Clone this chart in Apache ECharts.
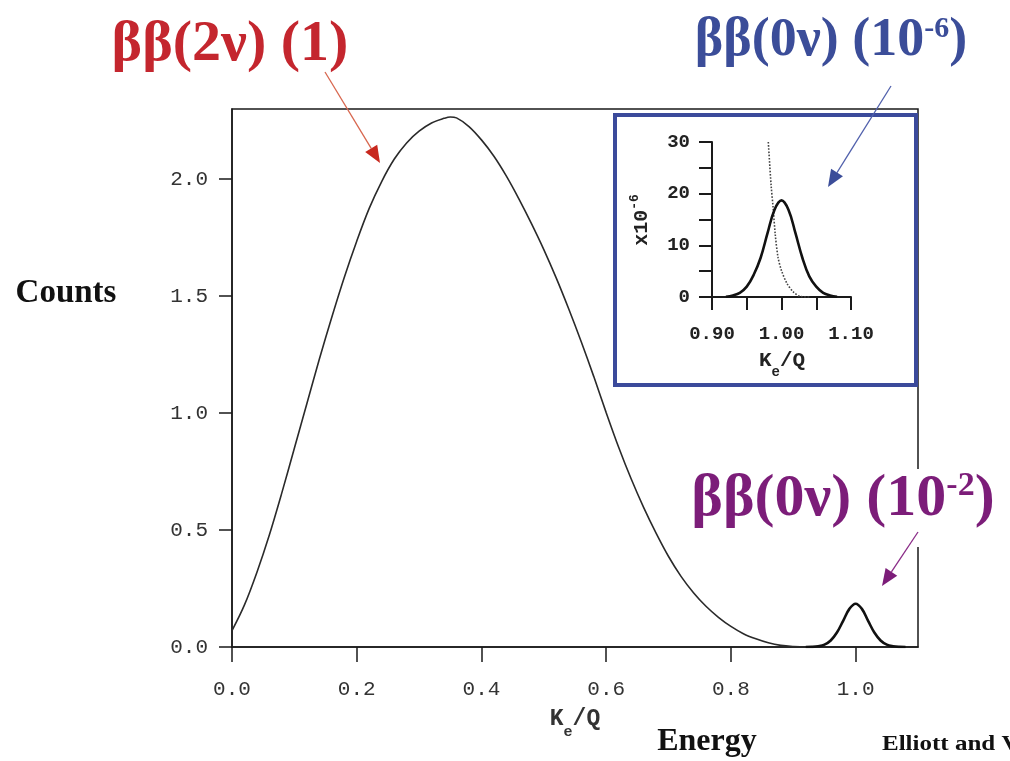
<!DOCTYPE html>
<html><head><meta charset="utf-8">
<script src="https://cdn.jsdelivr.net/npm/echarts@6/dist/echarts.min.js"></script>
<style>html,body{margin:0;padding:0;background:#fff}#c{width:1010px;height:761px}</style>
</head><body><div id="c"></div>
<script>
// ---- Data ----
// Main plot: 2-neutrino spectrum (Counts vs Ke/Q)
const xTwoNu = [0,0.02,0.04,0.06,0.08,0.10,0.12,0.14,0.16,0.18,0.20,0.22,0.24,0.26,0.28,0.30,0.32,0.34,0.35,0.36,0.38,0.40,0.42,0.44,0.46,0.48,0.50,0.52,0.54,0.56,0.58,0.60,0.62,0.64,0.66,0.68,0.70,0.72,0.74,0.76,0.78,0.80,0.82,0.84,0.86,0.88,0.90,0.92,0.95];
const yTwoNu = [0.07,0.18,0.32,0.48,0.66,0.85,1.04,1.23,1.41,1.58,1.735,1.875,1.99,2.085,2.155,2.205,2.24,2.26,2.266,2.262,2.225,2.168,2.098,2.013,1.916,1.811,1.699,1.577,1.445,1.305,1.157,1.002,0.854,0.719,0.597,0.487,0.387,0.302,0.232,0.174,0.127,0.088,0.057,0.035,0.018,0.007,0.002,0,0];
// Main plot: 0-neutrino peak (10^-2)
const xZeroNu = [0.92,0.93,0.94,0.95,0.96,0.97,0.98,0.99,1.00,1.01,1.02,1.03,1.04,1.05,1.06,1.07,1.08];
const yZeroNu = [0,0.0005,0.003,0.010,0.028,0.062,0.112,0.163,0.185,0.163,0.112,0.062,0.028,0.010,0.003,0.0005,0];
// Inset: 2-neutrino tail (dotted, x10^-6)
const xInsetTail = [0.981,0.985,0.988,0.991,0.995,1.000,1.008,1.017,1.027,1.040];
const yInsetTail = [30,21.7,17.2,12.1,7.7,5.1,2.6,1.0,0.1,0];
// Inset: 0-neutrino peak (10^-6)
const xInsetPeak = [0.92,0.93,0.94,0.95,0.96,0.97,0.98,0.99,1.00,1.01,1.02,1.03,1.04,1.05,1.06,1.07,1.08];
const yInsetPeak = [0.05,0.3,0.8,2.0,4.3,7.6,12.4,16.9,18.7,16.9,12.4,7.6,4.0,2.0,0.8,0.3,0.05];
// Tick values
const mainXTicks = [0,0.2,0.4,0.6,0.8,1.0];
const mainYTicks = [0,0.5,1.0,1.5,2.0];
const insetXTicks = [0.90,0.95,1.00,1.05,1.10];
const insetXLabels = [0.90,1.00,1.10];
const insetYTicks = [0,5,10,15,20,25,30];
const insetYLabels = [0,10,20,30];

// ---- Chart ----
const chart = echarts.init(document.getElementById('c'), null, {renderer: 'canvas'});
const zip = (xs, ys) => xs.map((x, i) => [x, ys[i]]);
const mono = '"Liberation Mono", "Courier New", monospace';
const serif = '"Liberation Serif", "Times New Roman", serif';
const ink = '#1a1a1a';

function arrow(x1, y1, x2, y2, lineColor, headColor) {
  const dx = x2 - x1, dy = y2 - y1, L = Math.hypot(dx, dy), ux = dx / L, uy = dy / L;
  const hl = 17, hw = 7;
  const bx = x2 - ux * hl, by = y2 - uy * hl;
  return [
    {type: 'line', z: 20, shape: {x1: x1, y1: y1, x2: bx, y2: by}, style: {stroke: lineColor, lineWidth: 1.3}},
    {type: 'polygon', z: 20, shape: {points: [[x2, y2], [bx - uy * hw, by + ux * hw], [bx + uy * hw, by - ux * hw]]}, style: {fill: headColor}}
  ];
}

function keq(x, y, big, small, color) {
  return {type: 'text', z: 10, x: x, y: y, style: {
    text: '{k|K}{e|e}{k|/Q}', align: 'center', verticalAlign: 'top',
    rich: {k: {fontFamily: mono, fontSize: big, fontWeight: 'bold', lineHeight: Math.round(big * 1.4), verticalAlign: 'top', fill: color},
           e: {fontFamily: mono, fontSize: small, fontWeight: 'bold', verticalAlign: 'bottom', fill: color}}}};
}

const option = {
  animation: false,
  backgroundColor: '#fff',
  grid: [
    {left: 232, top: 109, width: 686, height: 538, show: true, borderColor: ink, borderWidth: 1.5, backgroundColor: 'transparent'},
    {left: 712, top: 142, width: 139, height: 155}
  ],
  xAxis: [
    {gridIndex: 0, type: 'value', min: 0, max: 1.1,
     axisLine: {show: true, onZero: false, lineStyle: {color: ink, width: 1.5}},
     axisTick: {show: true, customValues: mainXTicks, length: 15, lineStyle: {color: ink, width: 1.5}},
     axisLabel: {customValues: mainXTicks, formatter: v => v.toFixed(1), margin: 32, fontFamily: mono, fontSize: 21, color: '#333'},
     splitLine: {show: false}},
    {gridIndex: 1, type: 'value', min: 0.9, max: 1.1, z: 6,
     axisLine: {show: true, onZero: false, lineStyle: {color: ink, width: 2}},
     axisTick: {show: true, customValues: insetXTicks, length: 13, lineStyle: {color: ink, width: 2}},
     axisLabel: {customValues: insetXLabels, formatter: v => v.toFixed(2), margin: 28, fontFamily: mono, fontSize: 19, fontWeight: 'bold', color: '#222'},
     splitLine: {show: false}}
  ],
  yAxis: [
    {gridIndex: 0, type: 'value', min: 0, max: 2.3,
     axisLine: {show: true, onZero: false, lineStyle: {color: ink, width: 1.5}},
     axisTick: {show: true, customValues: mainYTicks, length: 13, lineStyle: {color: ink, width: 1.5}},
     axisLabel: {customValues: mainYTicks, formatter: v => v.toFixed(1), margin: 24, fontFamily: mono, fontSize: 21, color: '#333'},
     splitLine: {show: false}},
    {gridIndex: 1, type: 'value', min: 0, max: 30, z: 6,
     axisLine: {show: true, onZero: false, lineStyle: {color: ink, width: 2}},
     axisTick: {show: true, customValues: insetYTicks, length: 13, lineStyle: {color: ink, width: 2}},
     axisLabel: {customValues: insetYLabels, formatter: v => String(v), margin: 22, fontFamily: mono, fontSize: 19, fontWeight: 'bold', color: '#222'},
     splitLine: {show: false}}
  ],
  series: [
    {type: 'line', xAxisIndex: 0, yAxisIndex: 0, data: zip(xTwoNu, yTwoNu), symbol: 'none', smooth: 0.35,
     lineStyle: {color: '#2a2a2a', width: 1.6}, z: 2},
    {type: 'line', xAxisIndex: 0, yAxisIndex: 0, data: zip(xZeroNu, yZeroNu), symbol: 'none', smooth: 0.4,
     lineStyle: {color: '#111', width: 2.6}, z: 2},
    {type: 'line', xAxisIndex: 1, yAxisIndex: 1, data: zip(xInsetTail, yInsetTail), symbol: 'none', smooth: 0.3,
     lineStyle: {color: '#444', width: 1.6, type: 'dotted'}, z: 6},
    {type: 'line', xAxisIndex: 1, yAxisIndex: 1, data: zip(xInsetPeak, yInsetPeak), symbol: 'none', smooth: 0.4,
     lineStyle: {color: '#111', width: 2.6}, z: 6}
  ],
  graphic: [
    // inset frame
    {type: 'rect', z: 3, shape: {x: 615, y: 115, width: 301, height: 270}, style: {fill: '#fff', stroke: '#3b4a9b', lineWidth: 4}},
    // labels
    {type: 'text', z: 10, x: 230, y: 45, style: {text: 'ββ(2ν) (1)', font: 'bold 58px ' + serif, fill: '#c4262e', align: 'center', verticalAlign: 'middle'}},
    {type: 'text', z: 10, x: 831, y: 14, style: {
      text: '{a|ββ(0ν) (10}{s|-6}{a|)}', align: 'center', verticalAlign: 'top',
      rich: {a: {fontFamily: serif, fontWeight: 'bold', fontSize: 54, lineHeight: 58, verticalAlign: 'top', fill: '#3b4d99'},
             s: {fontFamily: serif, fontWeight: 'bold', fontSize: 30, lineHeight: 38, verticalAlign: 'top', fill: '#3b4d99'}}}},
    {type: 'text', z: 10, x: 843, y: 469, style: {
      text: '{a|ββ(0ν) (10}{s|-2}{a|)}', align: 'center', verticalAlign: 'top', backgroundColor: '#fff', padding: [0, 2, 12, 2],
      rich: {a: {fontFamily: serif, fontWeight: 'bold', fontSize: 60, lineHeight: 66, verticalAlign: 'top', fill: '#7c1d79'},
             s: {fontFamily: serif, fontWeight: 'bold', fontSize: 34, lineHeight: 42, verticalAlign: 'top', fill: '#7c1d79'}}}},
    {type: 'text', z: 10, x: 66, y: 293, style: {text: 'Counts', font: 'bold 33px ' + serif, fill: '#111', align: 'center', verticalAlign: 'middle'}},
    {type: 'text', z: 10, x: 707, y: 742, style: {text: 'Energy', font: 'bold 32px ' + serif, fill: '#111', align: 'center', verticalAlign: 'middle'}},
    {type: 'text', z: 10, x: 882, y: 745, scaleX: 1.25, style: {text: 'Elliott and V', font: 'bold 20px ' + serif, fill: '#111', align: 'left', verticalAlign: 'middle'}},
    // axis titles K_e/Q
    keq(575, 708, 23, 15, '#333'),
    keq(782, 350, 21, 14, '#222'),
    {type: 'text', z: 10, x: 640, y: 220, rotation: Math.PI / 2, style: {
      text: '{k|x10}{s|-6}', align: 'center', verticalAlign: 'middle',
      rich: {k: {fontFamily: mono, fontSize: 20, fontWeight: 'bold', lineHeight: 24, verticalAlign: 'bottom', fill: '#222'},
             s: {fontFamily: mono, fontSize: 13, fontWeight: 'bold', lineHeight: 14, verticalAlign: 'top', fill: '#222'}}}}
  ]
    .concat(arrow(325, 72, 380, 163, '#d8674f', '#c8281e'))
    .concat(arrow(891, 86, 828, 187, '#5060ac', '#3b4d99'))
    .concat(arrow(918, 532, 882, 586, '#8a2b87', '#7c1d79'))
};
chart.setOption(option);
</script>
</body></html>
